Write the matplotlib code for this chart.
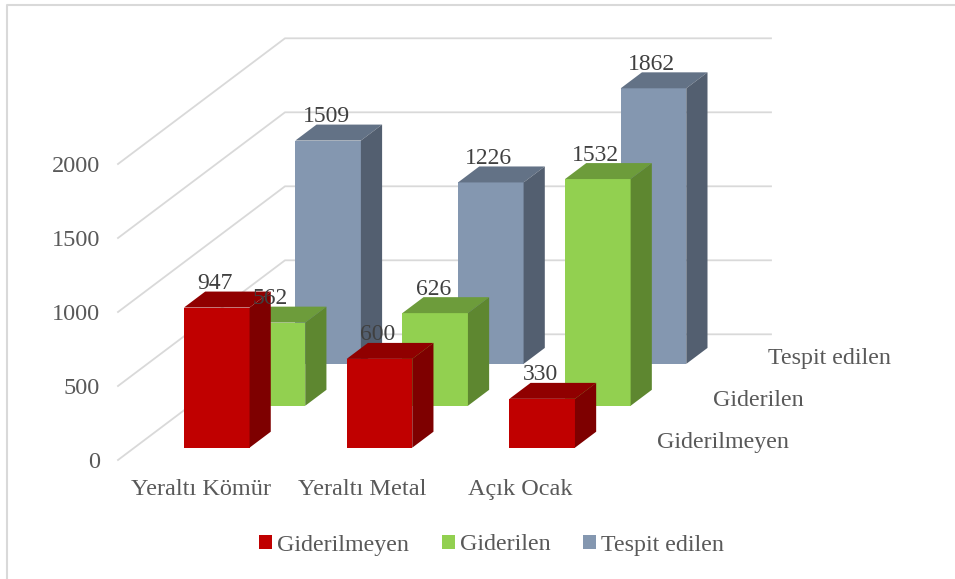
import matplotlib
matplotlib.use("Agg")
import matplotlib.pyplot as plt
from matplotlib.patches import Patch, Polygon

categories = ["Yeraltı Kömür", "Yeraltı Metal", "Açık Ocak"]
series = ["Giderilmeyen", "Giderilen", "Tespit edilen"]
giderilmeyen = [947, 600, 330]
giderilen = [562, 626, 1532]
tespit_edilen = [1509, 1226, 1862]
y_ticks = [0, 500, 1000, 1500, 2000]

W, H = 955, 579
plt.rcParams["font.family"] = ["Liberation Serif", "DejaVu Serif"]

front_col = ["#C00000", "#92D050", "#8497B0"]
top_col = ["#900000", "#6D9C3B", "#637286"]
side_col = ["#7E0000", "#5E8730", "#535F70"]
grid_col = "#D9D9D9"
txt_col = "#595959"

# axes box = front floor corner up to the top of the back wall
x0, y0 = 118, 460
px_x = 162.7
px_y = 0.148
fig = plt.figure(figsize=(W / 100, H / 100), dpi=100)
ax = fig.add_axes([x0 / W, 1 - y0 / H, (771 - x0) / W, (y0 - 38) / H])
ax.set_xlim(0, (771 - x0) / px_x)
ax.set_ylim(0, (y0 - 38) / px_y)
for s in ax.spines.values():
    s.set_visible(False)
ax.patch.set_alpha(0)

# outer frame: only top and left show in the reference
fig.add_artist(plt.Line2D([7 / W, 7 / W, 1], [0, 1 - 5 / H, 1 - 5 / H], transform=fig.transFigure,
                          color=grid_col, lw=1.5))

# oblique floor: depth 0 is the front edge, depth 1 the back wall
wall_dx = 167 / px_x
wall_dy = 125.7 / px_y
wall_w = 486 / px_x


def proj(x, d, v):
    return x + d * wall_dx, v + d * wall_dy


for t in y_ticks:
    ax.plot(*zip(proj(0, 0, t), proj(0, 1, t), proj(wall_w, 1, t)), color=grid_col, lw=1.3, clip_on=False, zorder=1)

bar_left = 0.305
bar_w = 0.403
bar_d = 0.127
d_first = 0.098
d_step = 1 / 3
values = [giderilmeyen, giderilen, tespit_edilen]
z = 2
# back series first so the front ones cover them
for i in [2, 1, 0]:
    d = d_first + i * d_step
    for c, v in enumerate(values[i]):
        x = c + bar_left
        a = proj(x, d, 0)
        b = proj(x + bar_w, d, 0)
        e = proj(x + bar_w, d, v)
        f = proj(x, d, v)
        g = proj(x + bar_w, d + bar_d, v)
        h = proj(x, d + bar_d, v)
        j = proj(x + bar_w, d + bar_d, 0)
        ax.add_patch(Polygon([a, b, e, f], fc=front_col[i], ec="none", clip_on=False, zorder=z))
        ax.add_patch(Polygon([f, e, g, h], fc=top_col[i], ec="none", clip_on=False, zorder=z))
        ax.add_patch(Polygon([b, j, g, e], fc=side_col[i], ec="none", clip_on=False, zorder=z))
        z += 1
    for c, v in enumerate(values[i]):
        lx, ly = proj(c + bar_left + bar_w / 2 - 2 / px_x, d, v + 24 / px_y)
        ax.text(lx, ly, str(v), ha="center", va="center", fontsize=17, color="#404040", zorder=50)

# series names along the floor's right edge
for i, name in enumerate(series):
    sx, sy = proj(3, d_first + i * d_step, 0)
    ax.text(sx + 0.212, sy + 5 / px_y, name, ha="left", va="center", fontsize=17.3, color=txt_col)

ax.set_yticks(y_ticks)
ax.set_xticks([0.51, 1.50, 2.47])
ax.set_xticklabels(categories)
ax.tick_params(axis="both", length=0, labelsize=17.5, labelcolor=txt_col)
ax.tick_params(axis="y", pad=13)
ax.tick_params(axis="x", pad=14)

handles = [Patch(fc=c, ec="none") for c in front_col]
fig.legend(handles, series, loc="center", bbox_to_anchor=(491.5 / W, 1 - 545 / H), ncol=3, frameon=False,
           fontsize=17.3, labelcolor=txt_col, handlelength=0.55, handleheight=0.55,
           handletextpad=0.2, columnspacing=1.35)

fig.savefig("out.png", dpi=100)
